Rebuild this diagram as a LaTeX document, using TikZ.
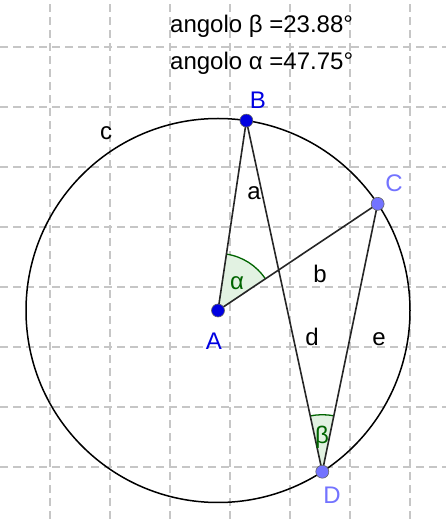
\documentclass[tikz,border=0pt]{standalone}
\usepackage{fontspec}
\setmainfont{Liberation Sans}
\usetikzlibrary{calc,angles}

\definecolor{ptfree}{RGB}{0,0,225}
\definecolor{ptpath}{RGB}{115,115,255}
\definecolor{angstroke}{RGB}{0,100,0}
\definecolor{angfill}{RGB}{226,242,226}

\begin{document}
\begin{tikzpicture}[
  x=1pt, y=1pt,
  font=\fontsize{24}{28}\selectfont,
  gridline/.style={draw=gray!45, line width=1.2pt, dash pattern=on 8pt off 5pt},
  seg/.style={draw=black!85, line width=1.6pt},
  angsec/.style={fill=angfill, draw=angstroke, line width=1.3pt, angle radius=57pt},
  dot/.style={circle, fill=#1, draw=black!60, line width=0.6pt, inner sep=0pt, minimum size=13pt},
  lbl/.style={inner sep=0pt, text=#1},
  lbl/.default=black
]
\useasboundingbox (0,0) rectangle (446,519);

\foreach \gx in {50,110,...,410}
  \draw[gridline] (\gx,0) -- (\gx,519);
\foreach \gy in {52,112,...,472}
  \draw[gridline] (0,\gy) -- (446,\gy);

\coordinate (A) at (218,208.5);
\coordinate (B) at ($(A)+(81.5:192pt)$);
\coordinate (C) at ($(A)+(33.75:192pt)$);
\coordinate (D) at ($(A)+(-57.1:192pt)$);

\pic[angsec] {angle=C--A--B};
\pic[angsec] {angle=C--D--B};

\draw[black, line width=1.5pt] (A) circle (192pt);
\draw[seg] (A) -- (B);
\draw[seg] (A) -- (C);
\draw[seg] (B) -- (D);
\draw[seg] (C) -- (D);

\node[dot=ptfree] (pA) at (A) {};
\node[dot=ptfree] (pB) at (B) {};
\node[dot=ptpath] (pC) at (C) {};
\node[dot=ptpath] (pD) at (D) {};

\node[lbl=ptfree] (lA) at (214,178) {A};
\node[lbl=ptfree] (lB) at (258,419) {B};
\node[lbl=ptpath] (lC) at (394,336) {C};
\node[lbl=ptpath] (lD) at (332,24) {D};

\node[lbl] (la) at (254,326) {a};
\node[lbl] (lb) at (320,245) {b};
\node[lbl] (lc) at (106,386) {c};
\node[lbl] (ld) at (312,182) {d};
\node[lbl] (le) at (379,180) {e};

\node[lbl=angstroke] (lalpha) at (237,236) {α};
\node[lbl=angstroke] (lbeta) at (322,82) {β};

\node[anchor=base west, inner sep=0pt] (angB) at (170,486) {angolo β =23.88°};
\node[anchor=base west, inner sep=0pt] (angA) at (170,449) {angolo α =47.75°};
\end{tikzpicture}
\end{document}
